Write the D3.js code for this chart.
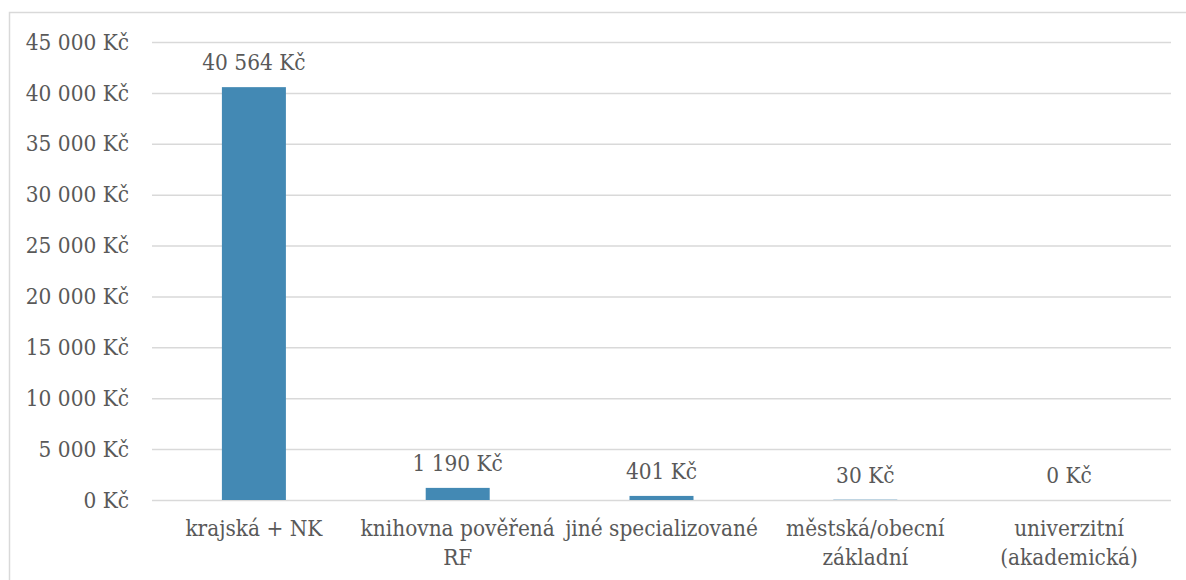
<!DOCTYPE html>
<html>
<head>
<meta charset="utf-8">
<script src="https://cdn.jsdelivr.net/npm/d3@7"></script>
<style>
  body { margin: 0; background: #fff; }
  text { font-family: "DejaVu Serif Condensed", "DejaVu Serif", serif; font-stretch: condensed; fill: #595959; }
</style>
</head>
<body>
<div class="chart"></div>
<script>
/* Global Constants
============================================= */
const SVG_WIDTH = 1186;
const SVG_HEIGHT = 580;

// "\n" marks where the label wraps
const categories = ["krajská + NK", "knihovna pověřená\nRF", "jiné specializované",
                    "městská/obecní\nzákladní", "univerzitní\n(akademická)"];
const values = [40564, 1190, 401, 30, 0];
const yTicks = [0, 5000, 10000, 15000, 20000, 25000, 30000, 35000, 40000, 45000];

const BAR_COLOR = "#4389b4";
const GRID_COLOR = "#d9d9d9";
const FONT_SIZE = 22.4;

var margin = { top: 42, bottom: 80, left: 152, right: 15 };
var width = SVG_WIDTH - margin.left - margin.right;
var height = SVG_HEIGHT - margin.top - margin.bottom;

var svg = d3.select(".chart")
    .append("svg")
    .attr("width", SVG_WIDTH)
    .attr("height", SVG_HEIGHT);

// outer chart frame (cut off at right/bottom)
svg.append("rect")
    .attr("x", 9.5)
    .attr("y", 12.5)
    .attr("width", SVG_WIDTH + 20)
    .attr("height", SVG_HEIGHT + 20)
    .attr("fill", "none")
    .attr("stroke", GRID_COLOR)
    .attr("stroke-width", 1.5);

var chart = svg.append("g")
    .attr("transform", `translate(${margin.left}, ${margin.top})`);

// scales
var xBand = d3.scaleBand()
    .domain(categories)
    .range([0, width])
    .paddingInner(0.686)
    .paddingOuter(0.343);

var yLinear = d3.scaleLinear()
    .domain([0, 45000])
    .range([height, 0]);

var fmt = function(v) {
    return d3.format(",")(v).replace(/,/g, " ") + " Kč";
};

// y axis with gridlines
var leftAxis = d3.axisLeft(yLinear)
    .tickValues(yTicks)
    .tickSize(-width)
    .tickPadding(23)
    .tickFormat(fmt);

var yAxis = chart.append("g").call(leftAxis);
yAxis.select(".domain").remove();
yAxis.selectAll(".tick line")
    .attr("stroke", GRID_COLOR)
    .attr("stroke-width", 1.5);
yAxis.selectAll(".tick text")
    .style("font-size", FONT_SIZE + "px")
    .attr("fill", "#595959");

// bars
chart.append("g").selectAll("rect")
    .data(values)
    .enter()
    .append("rect")
    .attr("x", function(d, i) { return xBand(categories[i]); })
    .attr("y", function(d) { return yLinear(d); })
    .attr("width", xBand.bandwidth())
    .attr("height", function(d) { return height - yLinear(d); })
    .attr("fill", BAR_COLOR);

// value labels
chart.append("g").selectAll("text")
    .data(values)
    .enter()
    .append("text")
    .attr("x", function(d, i) { return xBand(categories[i]) + xBand.bandwidth() / 2; })
    .attr("y", function(d) { return yLinear(d) - 17; })
    .attr("text-anchor", "middle")
    .style("font-size", FONT_SIZE + "px")
    .text(fmt);

// category labels
var xAxisG = chart.append("g")
    .attr("transform", `translate(0, ${height})`);

xAxisG.selectAll("text")
    .data(categories)
    .enter()
    .append("text")
    .attr("x", function(d) { return xBand(d) + xBand.bandwidth() / 2; })
    .attr("y", 36)
    .attr("text-anchor", "middle")
    .style("font-size", FONT_SIZE + "px")
    .each(function(d) {
        var node = d3.select(this);
        var x = node.attr("x");
        d.split("\n").forEach(function(line, i) {
            node.append("tspan")
                .attr("x", x)
                .attr("dy", i === 0 ? 0 : 29)
                .text(line);
        });
    });
</script>
</body>
</html>
